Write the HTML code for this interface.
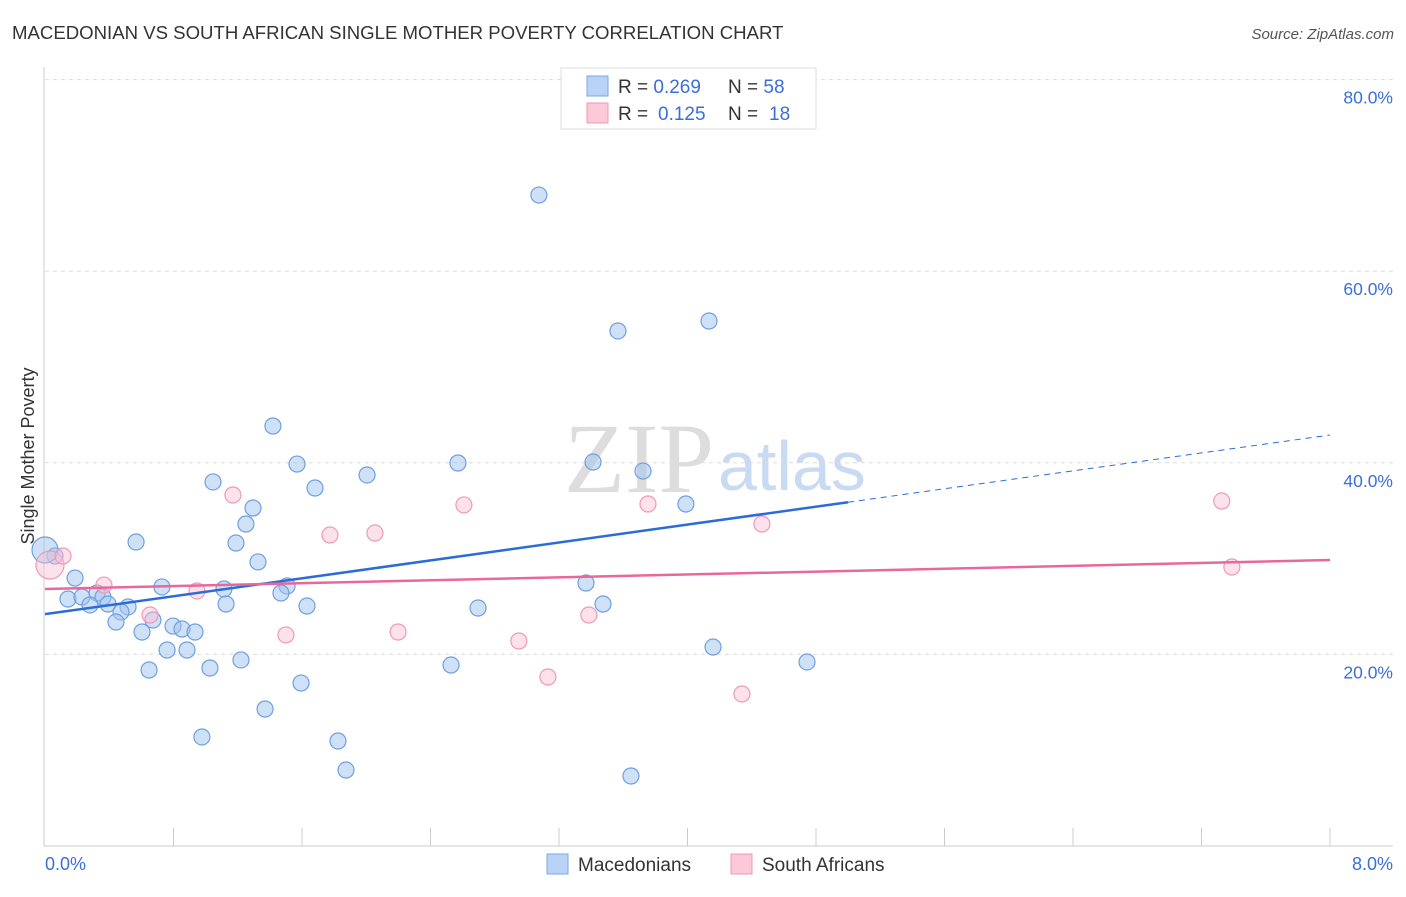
<!DOCTYPE html>
<html><head><meta charset="utf-8"><style>
body{margin:0;background:#fff;font-family:"Liberation Sans",sans-serif;}
</style></head><body>
<svg id="chart" width="1406" height="892" xmlns="http://www.w3.org/2000/svg" font-family="Liberation Sans, sans-serif">
<text x="12" y="39" font-size="18.6" fill="#333">MACEDONIAN VS SOUTH AFRICAN SINGLE MOTHER POVERTY CORRELATION CHART</text>
<text x="1394" y="39" font-size="15" fill="#555" font-style="italic" text-anchor="end">Source: ZipAtlas.com</text>
<text x="714" y="492" font-size="100" fill="#ddd" style="font-family:'Liberation Serif',serif" text-anchor="end">ZIP</text>
<text x="718" y="490" font-size="70" fill="#c9daf3">atlas</text>
<g id="grid"></g>
<line x1="44" y1="67" x2="44" y2="846" stroke="#ccc"/>
<line x1="44" y1="846" x2="1393" y2="846" stroke="#ccc"/>
<text x="34" y="456" font-size="18" fill="#333" text-anchor="middle" transform="rotate(-90 34 456)">Single Mother Poverty</text>
<text x="45" y="870" font-size="18" fill="#3a6fd8">0.0%</text>
<text x="1393" y="870" font-size="18" fill="#3a6fd8" text-anchor="end">8.0%</text>
<g id="marks"></g>
<g>
<rect x="561" y="68" width="255" height="61" fill="#fff" stroke="#ddd"/>
<rect x="587" y="76" width="21" height="20" fill="#b8d3f5" stroke="#7aa7e3"/>
<rect x="587" y="103" width="21" height="20" fill="#fbc9d8" stroke="#ef98b4"/>
<text x="618" y="93" font-size="19" fill="#333">R = <tspan fill="#3a6fd8">0.269</tspan><tspan x="728">N = </tspan><tspan fill="#3a6fd8">58</tspan></text>
<text x="618" y="120" font-size="19" fill="#333">R = <tspan fill="#3a6fd8" x="658">0.125</tspan><tspan x="728">N = </tspan><tspan fill="#3a6fd8" x="769">18</tspan></text>
</g>
<g>
<rect x="547" y="854" width="21" height="20" fill="#b8d3f5" stroke="#7aa7e3"/>
<text x="578" y="871" font-size="19" fill="#333">Macedonians</text>
<rect x="731" y="854" width="21" height="20" fill="#fbc9d8" stroke="#ef98b4"/>
<text x="762" y="871" font-size="19" fill="#333">South Africans</text>
</g>
</svg>
<script>
const yTicks=[20,40,60,80];
const xTicks=[0,0.8,1.6,2.4,3.2,4.0,4.8,5.6,6.4,7.2,8.0];
const macX=[3.075,3.567,4.134,1.419,1.569,2.571,3.412,3.723,2.005,1.046,1.681,1.295,3.990,1.251,0.567,1.189,1.326,0.062,0.0,0.187,0.728,1.114,1.507,1.469,3.368,0.143,0.230,0.324,0.361,0.280,0.392,0.517,0.473,1.127,1.631,2.696,3.474,0.442,0.672,0.604,0.797,0.853,0.934,0.760,0.884,4.159,1.220,0.648,1.027,2.528,4.744,1.594,1.370,0.977,1.824,1.874,3.648];
const macY=[67.95,53.76,54.8,43.84,39.87,39.98,40.08,39.14,38.73,38.0,37.37,35.28,35.7,33.61,31.73,31.63,29.65,30.27,30.9,27.97,27.04,26.83,27.14,26.41,27.45,25.78,25.99,26.41,25.99,25.16,25.26,24.95,24.43,25.26,25.05,24.84,25.26,23.38,23.59,22.34,22.96,22.65,22.34,20.46,20.46,20.77,19.42,18.37,18.58,18.89,19.21,17.01,14.3,11.38,10.96,7.93,7.31];
const safX=[0.031,0.112,0.367,0.654,0.946,1.170,1.500,1.774,2.054,2.198,2.608,2.950,3.131,3.386,3.754,4.339,4.463,7.326,7.389];
const safY=[29.33,30.27,27.24,24.11,26.62,36.64,22.03,32.46,32.67,22.34,35.6,21.4,17.64,24.11,35.7,15.87,33.61,36.01,29.12];
const macTrend=[24.2,42.9];
const safTrend=[26.83,29.85];
const NS="http://www.w3.org/2000/svg";
const X=v=>45+v/8*1285;
const Y=v=>846-v*9.58;
function mk(t,a,p){const e=document.createElementNS(NS,t);for(const k in a)e.setAttribute(k,a[k]);p.appendChild(e);return e;}
const grid=document.getElementById('grid'),marks=document.getElementById('marks');
yTicks.forEach(v=>{
 const l=mk('line',{x1:45,x2:1393,y1:Y(v),y2:Y(v),stroke:'#ddd','stroke-dasharray':'4,4'},grid);
 
 
 const t=mk('text',{x:1393,y:Y(v)+24,'font-size':17.5,fill:'#3a6fd8','text-anchor':'end'},grid);
 t.textContent=v.toFixed(1)+'%';
 
 
});
xTicks.slice(1).forEach(v=>{
 const l=mk('line',{x1:X(v),x2:X(v),y1:828,y2:846,stroke:'#ccc'},grid);
 
 
});
macX.forEach((x,i)=>{
 const c=mk('circle',{cx:X(x),cy:Y(macY[i]),r:x===0?13:8,fill:'rgba(160,195,240,0.5)',stroke:'#6f9fe0','stroke-width':1.2},marks);
 
 
});
safX.forEach((x,i)=>{
 const c=mk('circle',{cx:X(x),cy:Y(safY[i]),r:i===0?14:8,fill:'rgba(250,190,210,0.45)',stroke:'#ee9ab5','stroke-width':1.2},marks);
 
 
});
const m=(macTrend[1]-macTrend[0])/8, xe=(848-45)/1285*8;
let l=mk('line',{x1:X(0),y1:Y(macTrend[0]),x2:X(xe),y2:Y(macTrend[0]+m*xe),stroke:'#2b6cd6','stroke-width':2.5},marks);


l=mk('line',{x1:X(xe),y1:Y(macTrend[0]+m*xe),x2:X(8),y2:Y(macTrend[1]),stroke:'#2b6cd6','stroke-width':1,'stroke-dasharray':'6,5'},marks);


l=mk('line',{x1:X(0),y1:Y(safTrend[0]),x2:X(8),y2:Y(safTrend[1]),stroke:'#e8689a','stroke-width':2.5},marks);


</script>
</body></html>
